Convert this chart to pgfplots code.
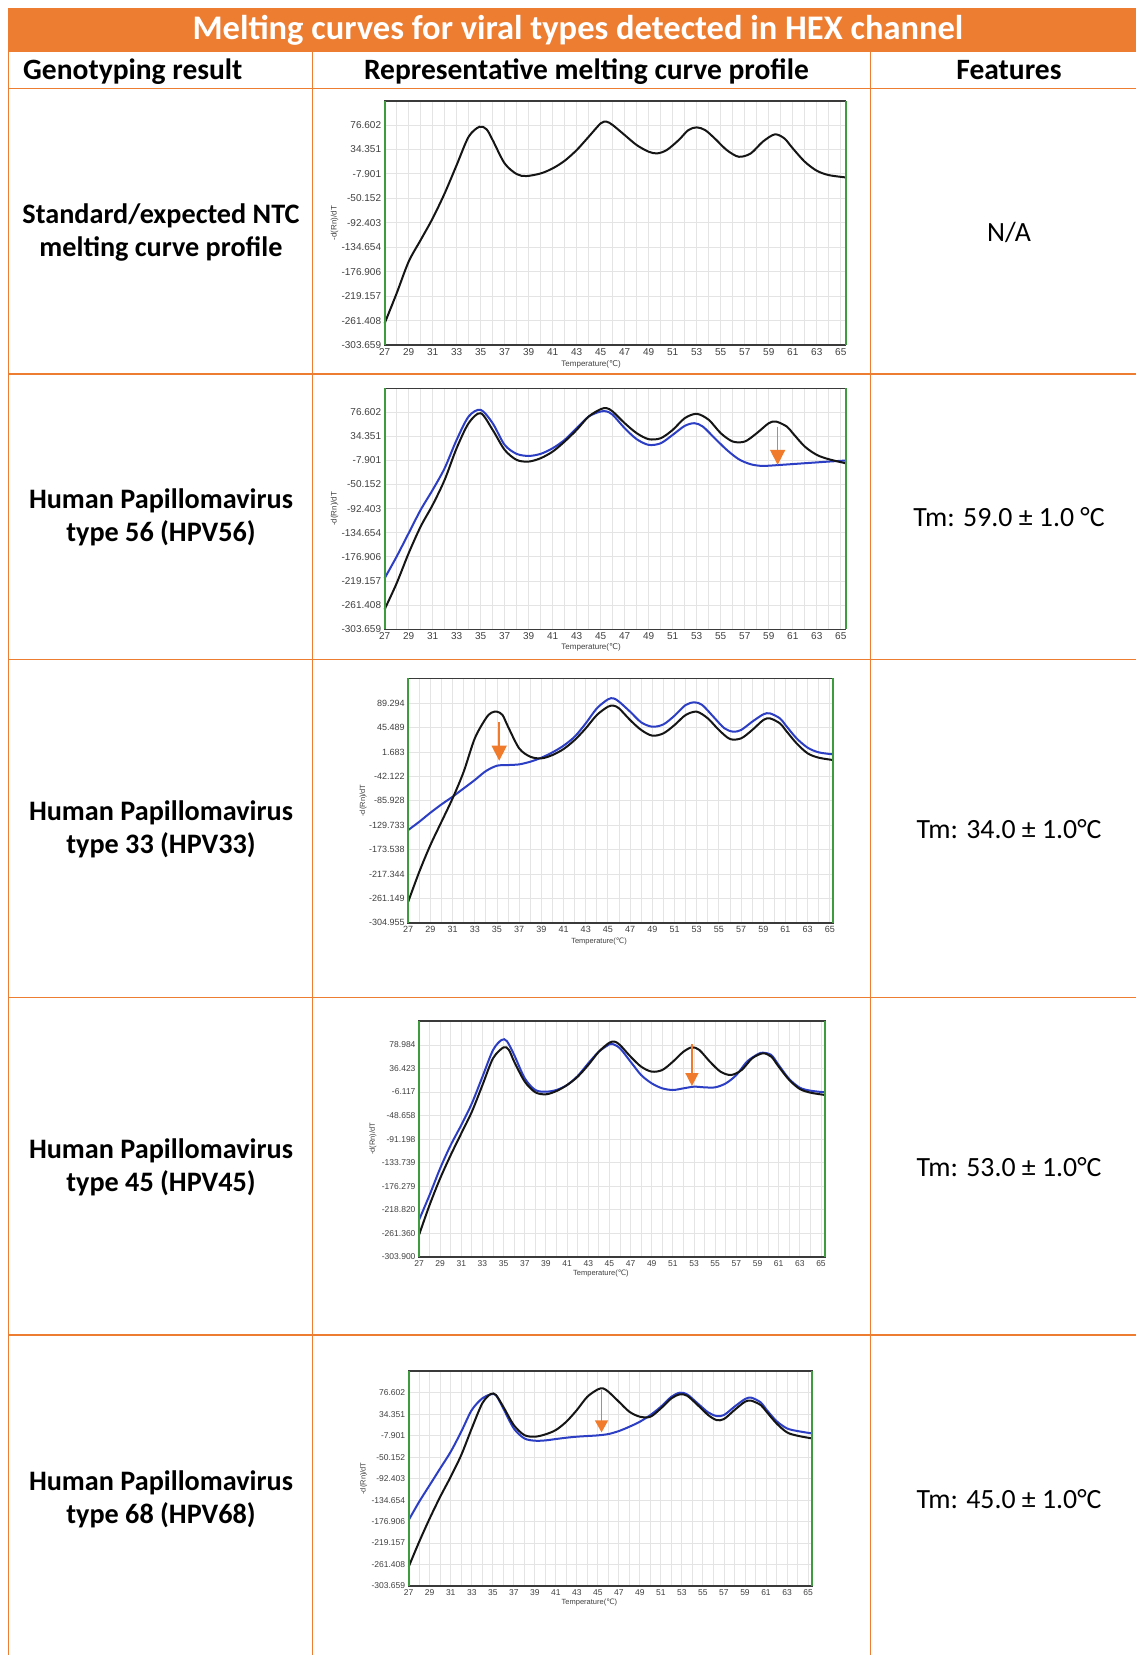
\documentclass[border=0pt]{standalone}
\usepackage{fontspec}
\setmainfont{Carlito}
\newfontfamily\chartfont{Liberation Sans}
\newfontfamily\dejavu{DejaVu Sans}
\usepackage{pgfplots}
\pgfplotsset{compat=1.18}
\usetikzlibrary{arrows.meta}
\definecolor{tabor}{HTML}{ED7D31}
\definecolor{arrowor}{HTML}{F07B2C}
\definecolor{gridc}{HTML}{E4E4E4}
\definecolor{framec}{HTML}{3A3A3A}
\definecolor{greenc}{HTML}{3E9B3E}
\definecolor{tickc}{HTML}{404040}
\definecolor{bluec}{HTML}{2B3EC4}
\definecolor{blackc}{HTML}{151515}
\pgfplotsset{
  mc/.style={
    scale only axis, anchor=north west, clip=false,
    xmin=27, xtick={27,29,...,65}, minor x tick num=1, minor y tick num=1,
    grid=both,
    major grid style={draw=gridc, line width=0.9pt},
    minor grid style={draw=gridc, line width=0.9pt},
    major tick length=0pt, minor tick length=0pt,
    axis line style={draw=framec, line width=1.6pt},
    tick label style={text=tickc},
    /pgf/number format/assume math mode=true,
  },
  blk/.style={color=blackc, line width=2pt, smooth},
  blu/.style={color=bluec, line width=2pt, smooth},
}
\newcommand{\greenframe}{%
  \draw[greenc, line width=2pt] (rel axis cs:0,0) -- (rel axis cs:0,1);
  \draw[greenc, line width=2pt] (rel axis cs:1,0) -- (rel axis cs:1,1);}
\newcommand{\labs}[3]{% xshift of ylabel, yshift of xlabel, font size
  \node[rotate=90, text=tickc, font=\chartfont\fontsize{#3}{#3}\selectfont] at ([xshift=-#1]rel axis cs:0,0.5) {-d(Rn)/dT};
  \node[text=tickc, font=\chartfont\fontsize{#3}{#3}\selectfont] at ([yshift=-#2]axis cs:44.2,\pgfkeysvalueof{/pgfplots/ymin}) {Temperature({\dejavu ℃})};}
\begin{document}
\begin{tikzpicture}
\useasboundingbox (0,0) rectangle (1136pt,-1655pt);
\fill[white] (0,0) rectangle (1136pt,-1655pt);
% ---------- table ----------
\fill[tabor] (8.3pt,-8.4pt) rectangle (1136pt,-51.7pt);
\node[text=white, font=\bfseries\fontsize{34.5}{40}\selectfont] at (578pt,-30pt) {Melting curves for viral types detected in HEX channel};
\foreach \yy in {88.3,374,659.3,997.3,1335}{\draw[tabor, line width=1.5pt] (8.3pt,-\yy pt) -- (1136pt,-\yy pt);}
\foreach \xx in {8.3,312.3,870.3}{\draw[tabor, line width=1.5pt] (\xx pt,-51.7pt) -- (\xx pt,-1655pt);}
\begin{scope}[every node/.style={inner sep=0pt, font=\bfseries\fontsize{29.5}{34}\selectfont}]
\node[anchor=base west] at (23pt,-79.3pt) {Genotyping result};
\node[anchor=base] at (586.5pt,-79.3pt) {Representative melting curve profile};
\node[anchor=base] at (1009pt,-79.3pt) {Features};
\end{scope}
\begin{scope}[every node/.style={inner sep=0pt, anchor=base, font=\bfseries\fontsize{28.2}{33}\selectfont}]
\node at (161pt,-223.3pt) {Standard/expected NTC};
\node at (161pt,-256.7pt) {melting curve profile};
\node at (161pt,-508.5pt) {Human Papillomavirus};
\node at (161pt,-541.8pt) {type 56 (HPV56)};
\node at (161pt,-820.3pt) {Human Papillomavirus};
\node at (161pt,-853.3pt) {type 33 (HPV33)};
\node at (161pt,-1158.5pt) {Human Papillomavirus};
\node at (161pt,-1191.8pt) {type 45 (HPV45)};
\node at (161pt,-1490.7pt) {Human Papillomavirus};
\node at (161pt,-1523.3pt) {type 68 (HPV68)};
\end{scope}
\begin{scope}[every node/.style={inner sep=0pt, anchor=base, font=\fontsize{27.8}{32}\selectfont}]
\node at (1009pt,-241.7pt) {N/A};
\node at (1009pt,-526.5pt) {Tm: 59.0 ± 1.0 °C};
\node at (1009pt,-838.5pt) {Tm: 34.0 ± 1.0°C};
\node at (1009pt,-1176.5pt) {Tm: 53.0 ± 1.0°C};
\node at (1009pt,-1508.3pt) {Tm: 45.0 ± 1.0°C};
\end{scope}
% ---------- chart 1: NTC ----------
\begin{axis}[mc, at={(384.6pt,-101pt)}, width=461pt, height=244pt,
  xmax=65.4, ymin=-303.659, ymax=118.2,
  tick label style={font=\chartfont\fontsize{10}{10}\selectfont},
  ytick={76.602,34.351,-7.901,-50.152,-92.403,-134.654,-176.906,-219.157,-261.408,-303.659},
  yticklabels={76.602,34.351,-7.901,-50.152,-92.403,-134.654,-176.906,-219.157,-261.408,-303.659}]
\addplot[blk] coordinates {(27,-266.4)(28,-214.5)(29,-159.7)(30,-122.3)(31,-84.8)(32,-41.6)(33,7.4)(34,56.4)(34.9,73.7)(35.5,69.1)(36,50.7)(37,10.3)(38,-8.1)(38.8,-11.6)(40,-7.0)(41,1.7)(42,14.9)(43,33.4)(44,56.4)(45,79.5)(45.5,82.4)(46,76.6)(47,59.3)(48,42.0)(49,30.5)(49.7,27.6)(50.5,33.4)(51.5,50.7)(52.3,67.9)(53,72.6)(53.7,67.9)(54.5,53.5)(55.5,33.4)(56.5,21.8)(57.5,27.6)(58.5,47.8)(59.5,60.5)(60.3,53.5)(61,36.3)(62,13.2)(63,-2.4)(64,-9.9)(65.4,-13.9)};
\greenframe
\labs{50pt}{19pt}{8}
\end{axis}
% ---------- chart 2: HPV56 ----------
\begin{axis}[mc, at={(384.6pt,-388.3pt)}, width=461pt, height=241pt,
  xmax=65.4, ymin=-303.659, ymax=118.4,
  tick label style={font=\chartfont\fontsize{10}{10}\selectfont},
  ytick={76.602,34.351,-7.901,-50.152,-92.403,-134.654,-176.906,-219.157,-261.408,-303.659},
  yticklabels={76.602,34.351,-7.901,-50.152,-92.403,-134.654,-176.906,-219.157,-261.408,-303.659}]
\addplot[blu] coordinates {(27,-214.4)(28,-176.4)(29,-135.5)(30,-94.6)(31,-59.6)(32,-21.6)(33,28.1)(34,69.0)(35,80.7)(36,57.3)(37,19.3)(38,3.6)(39,0.0)(40,3.6)(41,13.5)(42,28.1)(43,48.5)(44,69.0)(45,77.8)(45.5,77.8)(46,72.0)(47,48.5)(48,29.3)(49,19.3)(50,22.2)(51,36.9)(52,52.6)(52.8,57.3)(53.5,51.5)(54.5,31.0)(55.5,10.6)(56.5,-5.8)(57.5,-14.6)(58.5,-17.5)(60,-15.7)(62,-12.8)(64,-9.9)(65.4,-8.1)};
\addplot[blk] coordinates {(27,-268.8)(28,-223.2)(29,-170.6)(30,-123.8)(31,-85.9)(32,-42.0)(33,13.5)(34,57.3)(35,74.8)(36,45.6)(37,10.6)(38,-7.0)(39,-9.9)(40,-4.0)(41,7.6)(42,25.2)(43,45.6)(44,69.0)(45,81.9)(45.5,83.6)(46,77.8)(47,57.3)(48,39.8)(49,29.3)(50,31.0)(51,45.6)(52,66.1)(53,73.7)(54,63.2)(55,39.8)(56,25.2)(57,25.2)(58,39.8)(59,57.3)(59.6,60.2)(60.5,51.5)(61,39.8)(62,16.4)(63,1.8)(64,-5.8)(65.4,-12.8)};
\draw[arrowor, line width=1.5pt, -{Triangle[width=15pt,length=15pt]}] (axis cs:59.74,51.5) -- (axis cs:59.74,-15.7);
\greenframe
\labs{50pt}{18.4pt}{8}
\end{axis}
% ---------- chart 3: HPV33 ----------
\begin{axis}[mc, at={(408.2pt,-678.3pt)}, width=425pt, height=244.4pt,
  xmax=65.3, ymin=-304.955, ymax=134.3,
  tick label style={font=\chartfont\fontsize{9}{9}\selectfont},
  ytick={89.294,45.489,1.683,-42.122,-85.928,-129.733,-173.538,-217.344,-261.149,-304.955},
  yticklabels={89.294,45.489,1.683,-42.122,-85.928,-129.733,-173.538,-217.344,-261.149,-304.955}]
\addplot[blu] coordinates {(27,-138.4)(28,-123.5)(29,-107.3)(30,-92.3)(31,-78.5)(32,-63.5)(33,-48.5)(34,-32.4)(35,-22.8)(36,-21.6)(37,-20.4)(38,-15.6)(39,-8.4)(40,1.2)(41,13.2)(42,29.4)(43,53.3)(44,80.3)(45,96.5)(45.5,98.3)(46,92.3)(47,74.3)(48,55.1)(49,47.3)(50,51.5)(51,67.1)(52,86.3)(52.8,91.1)(53.5,86.3)(54.5,65.3)(55.5,44.4)(56.3,38.4)(57,41.4)(58,56.3)(59,69.5)(59.6,71.3)(60.5,62.3)(61,50.3)(62,26.4)(63,9.6)(64,1.2)(65.3,-2.4)};
\addplot[blk] coordinates {(27,-267.3)(28,-213.3)(29,-165.4)(30,-123.5)(31,-81.5)(32,-33.6)(33,26.4)(34,62.3)(34.5,72.5)(35,74.3)(35.5,68.3)(36,47.3)(37,8.4)(38,-6.6)(39,-9.6)(40,-3.6)(41,7.2)(42,23.4)(43,44.4)(44,68.3)(45,83.3)(45.5,85.1)(46,80.3)(47,59.3)(48,41.4)(49,31.2)(50,35.4)(51,50.3)(52,68.3)(53,74.3)(54,62.3)(55,41.4)(56,25.2)(57,26.4)(58,41.4)(59,59.3)(59.6,62.3)(60.5,53.3)(61,41.4)(62,17.4)(63,-0.6)(64,-8.4)(65.3,-12.6)};
\draw[arrowor, line width=1.5pt, -{Triangle[width=15pt,length=15pt]}] (axis cs:35.2,55.1) -- (axis cs:35.2,-13.8);
\greenframe
\labs{45pt}{19pt}{7.5}
\end{axis}
% ---------- chart 4: HPV45 ----------
\begin{axis}[mc, at={(419pt,-1020.7pt)}, width=406pt, height=236pt,
  xmax=65.38, ymin=-303.9, ymax=122.9,
  tick label style={font=\chartfont\fontsize{8.5}{8.5}\selectfont},
  ytick={78.984,36.423,-6.117,-48.658,-91.198,-133.739,-176.279,-218.820,-261.360,-303.900},
  yticklabels={78.984,36.423,-6.117,-48.658,-91.198,-133.739,-176.279,-218.820,-261.360,-303.900}]
\addplot[blu] coordinates {(27,-237.5)(28,-192.3)(29,-144.1)(30,-101.9)(31,-65.7)(32,-26.5)(33,21.7)(34,69.9)(34.8,88.0)(35.3,86.2)(36,60.9)(37,18.7)(38,-2.4)(39,-5.4)(40,-2.4)(41,6.6)(42,22.9)(43,45.8)(44,66.9)(45,80.2)(45.3,80.8)(46,73.0)(47,48.8)(48,24.7)(49,9.6)(50,0.6)(51,-2.4)(52,0.6)(53,3.6)(54,2.4)(55,2.4)(56,9.6)(57,24.7)(58,48.8)(59,62.1)(59.5,65.1)(60.3,60.9)(61,42.8)(62,17.5)(63,1.8)(64,-3.6)(65.38,-6.6)};
\addplot[blk] coordinates {(27,-264.7)(28,-210.4)(29,-162.2)(30,-120.0)(31,-80.8)(32,-41.6)(33,6.6)(34,54.9)(35,74.8)(35.5,70.0)(36,48.8)(37,12.7)(38,-6.6)(39,-10.2)(40,-4.2)(41,6.6)(42,21.7)(43,42.8)(44,66.9)(45,83.2)(45.5,85.0)(46,79.0)(47,57.9)(48,39.8)(49,30.8)(50,33.8)(51,48.8)(52,66.9)(52.8,74.8)(53.5,70.0)(54.5,48.8)(55.5,30.8)(56.5,24.7)(57.5,33.8)(58.5,54.9)(59.5,63.9)(60.3,57.9)(61,39.8)(62,15.7)(63,-0.6)(64,-7.2)(65.38,-11.4)};
\draw[arrowor, line width=1.5pt, -{Triangle[width=13pt,length=13pt]}] (axis cs:52.8,80.2) -- (axis cs:52.8,4.8);
\greenframe
\labs{46pt}{17pt}{7.5}
\end{axis}
% ---------- chart 5: HPV68 ----------
\begin{axis}[mc, at={(408.7pt,-1371pt)}, width=403pt, height=215pt,
  xmax=65.35, ymin=-303.659, ymax=119.3,
  tick label style={font=\chartfont\fontsize{8.5}{8.5}\selectfont},
  ytick={76.602,34.351,-7.901,-50.152,-92.403,-134.654,-176.906,-219.157,-261.408,-303.659},
  yticklabels={76.602,34.351,-7.901,-50.152,-92.403,-134.654,-176.906,-219.157,-261.408,-303.659}]
\addplot[blu] coordinates {(27,-173.9)(28,-137.8)(29,-105.0)(30,-72.2)(31,-39.4)(32,-0.1)(33,42.5)(34,65.5)(34.8,73.3)(35.3,72.0)(36,45.8)(37,6.4)(38,-13.2)(39,-17.8)(40,-17.2)(41,-14.5)(42,-11.9)(43,-9.9)(44,-8.6)(45,-7.3)(46,-4.7)(47,1.2)(48,9.7)(49,19.6)(50,32.7)(51,49.1)(52,68.7)(52.8,76.6)(53.5,73.3)(54.5,55.6)(55.5,37.9)(56.3,30.7)(57,32.7)(58,49.1)(59,64.1)(59.6,66.8)(60.5,57.6)(61,44.5)(62,20.9)(63,6.4)(64,1.2)(65.35,-3.4)};
\addplot[blk] coordinates {(27,-265.7)(28,-216.5)(29,-170.6)(30,-128.0)(31,-88.6)(32,-46.0)(33,6.4)(34,55.6)(34.8,74.0)(35.3,72.0)(36,49.1)(37,13.0)(38,-6.7)(39,-9.9)(40,-5.4)(41,3.2)(42,19.6)(43,42.5)(44,68.7)(45,83.2)(45.5,85.1)(46,78.6)(47,58.9)(48,39.2)(49,29.4)(50,29.4)(51,45.8)(52,65.5)(52.8,73.3)(53.5,70.7)(54.5,52.3)(55.5,32.7)(56.3,22.8)(57,24.8)(58,42.5)(59,58.9)(59.6,60.9)(60.5,52.3)(61,40.5)(62,16.3)(63,-1.4)(64,-8.0)(65.35,-13.2)};
\draw[arrowor, line width=1.5pt, -{Triangle[width=13pt,length=12pt]}] (axis cs:45.35,81.8) -- (axis cs:45.35,-1.4);
\greenframe
\labs{45pt}{16pt}{7.5}
\end{axis}
\end{tikzpicture}
\end{document}
